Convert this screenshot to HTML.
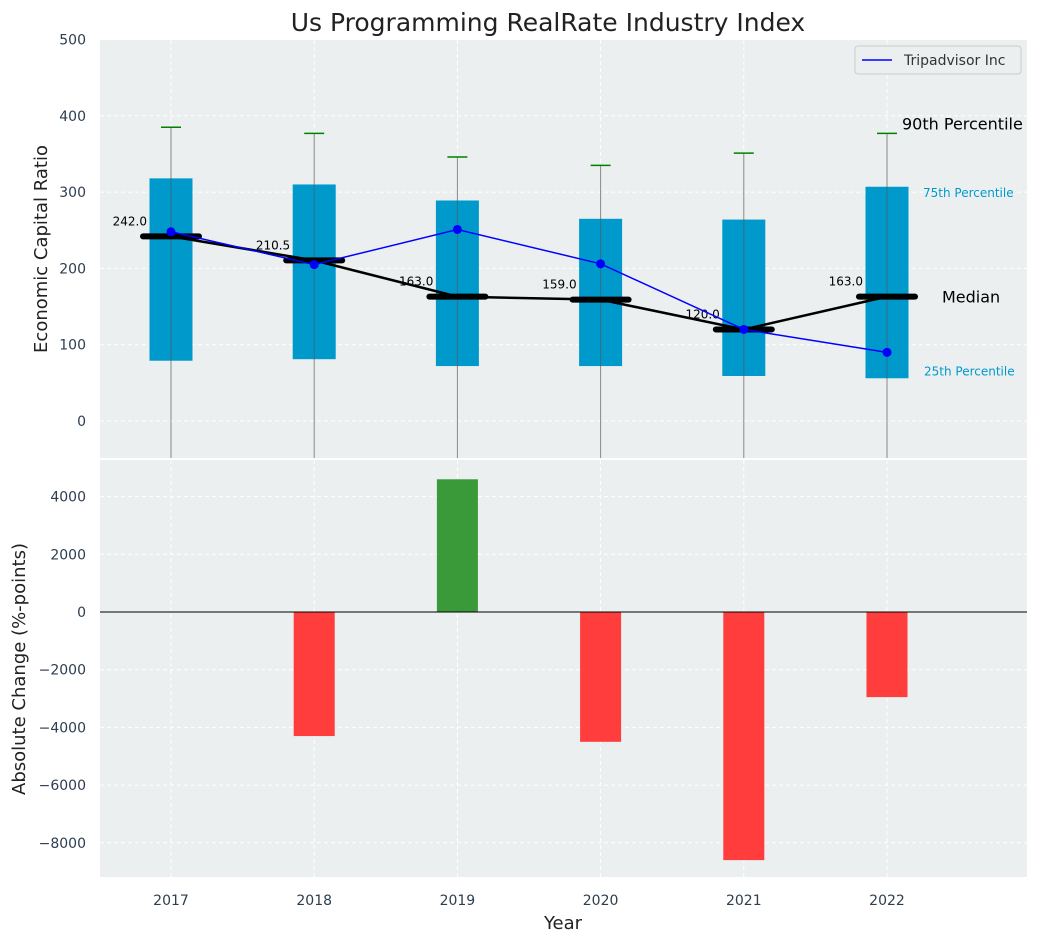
<!DOCTYPE html>
<html><head><meta charset="utf-8"><style>
body{margin:0;background:#fff;font-family:"DejaVu Sans","Liberation Sans",sans-serif}
svg text{font-family:"DejaVu Sans","Liberation Sans",sans-serif}
</style></head><body>
<svg id="c" width="1039" height="942" xmlns="http://www.w3.org/2000/svg"></svg>
<script>
const years=[2017,2018,2019,2020,2021,2022];
const q1=[79,81,72,72,59,56];
const q3=[318,310,289,265,264,307];
const p90=[385,377,346,335,351,377];
const p10=[-100,-100,-100,-100,-100,-100];
const medians=[242,210.5,163,159,120,163];
const tripadvisor=[248,205,251,206,120,90];
const changes=[0,-4300,4600,-4500,-8600,-2950];
const yTicksTop=[0,100,200,300,400,500];
const yTicksBot=[-8000,-6000,-4000,-2000,0,2000,4000];

const NS="http://www.w3.org/2000/svg";
const svg=document.getElementById('c');
function el(t,a,txt){const e=document.createElementNS(NS,t);for(const k in a)e.setAttribute(k,a[k]);if(txt!==undefined)e.textContent=txt;svg.appendChild(e);return e;}
const L=100,R=1027,T1=40,B1=458,T2=460,B2=877;
const x=v=>171+(v-2017)*143.2;
const y1=v=>421-v*0.763;
const y2=v=>612-v*0.02885;
const tick='#2c3e50';

let e=el('rect',{x:L,y:T1,width:R-L,height:B1-T1,fill:'#ebefef'});

e=el('rect',{x:L,y:T2,width:R-L,height:B2-T2,fill:'#ebefef'});


years.forEach(v=>{
 el('line',{x1:x(v),x2:x(v),y1:T1,y2:B1,stroke:'#fff','stroke-dasharray':'4,3'});
 el('line',{x1:x(v),x2:x(v),y1:T2,y2:B2,stroke:'#fff','stroke-dasharray':'4,3'});
 e=el('text',{x:x(v),y:905,'font-size':14,fill:tick,'text-anchor':'middle'},v);
 
});
yTicksTop.forEach(v=>{
 el('line',{x1:L,x2:R,y1:y1(v),y2:y1(v),stroke:'#fff','stroke-dasharray':'4,3'});
 e=el('text',{x:86,y:y1(v)+5,'font-size':14,fill:tick,'text-anchor':'end'},v);
 
});
yTicksBot.forEach(v=>{
 el('line',{x1:L,x2:R,y1:y2(v),y2:y2(v),stroke:'#fff','stroke-dasharray':'4,3'});
 e=el('text',{x:86,y:y2(v)+5,'font-size':14,fill:tick,'text-anchor':'end'},String(v).replace('-','−'));
 
});

years.forEach((v,i)=>{
 const cx=x(v);
 e=el('line',{x1:cx,x2:cx,y1:y1(p90[i]),y2:Math.min(B1,y1(p10[i])),stroke:'#888','stroke-width':1});
 
 e=el('rect',{x:cx-21.5,y:y1(q3[i]),width:43,height:y1(q1[i])-y1(q3[i]),fill:'#0099cc'});
 
 el('line',{x1:cx,x2:cx,y1:y1(q3[i]),y2:y1(q1[i]),stroke:'#555','stroke-width':1,opacity:0.6});
 e=el('line',{x1:cx-10,x2:cx+10,y1:y1(p90[i]),y2:y1(p90[i]),stroke:'green','stroke-width':1.5});
 
});
e=el('polyline',{points:years.map((v,i)=>x(v)+','+y1(medians[i])).join(' '),fill:'none',stroke:'#000','stroke-width':2.5});

years.forEach((v,i)=>{
 e=el('line',{x1:x(v)-28,x2:x(v)+28,y1:y1(medians[i]),y2:y1(medians[i]),stroke:'#000','stroke-width':6,'stroke-linecap':'round'});
 
 e=el('text',{x:x(v)-24,y:y1(medians[i])-11,'font-size':12,fill:'#000','text-anchor':'end'},medians[i].toFixed(1));
 
});
e=el('polyline',{points:years.map((v,i)=>x(v)+','+y1(tripadvisor[i])).join(' '),fill:'none',stroke:'blue','stroke-width':1.5});

years.forEach((v,i)=>{
 e=el('circle',{cx:x(v),cy:y1(tripadvisor[i]),r:4.5,fill:'blue'});
 
});
const lx=x(2022);
e=el('text',{x:lx+15,y:y1(p90[5])-4,'font-size':16,fill:'#000'},'90th Percentile');

e=el('text',{x:lx+36,y:y1(q3[5])+10,'font-size':12,fill:'#0099cc'},'75th Percentile');

e=el('text',{x:lx+55,y:y1(medians[5])+6,'font-size':16,fill:'#000'},'Median');

e=el('text',{x:lx+37,y:y1(q1[5])-3,'font-size':12,fill:'#0099cc'},'25th Percentile');

e=el('rect',{x:855,y:46,width:166,height:28,fill:'#ebefef',stroke:'#ccc',rx:3});

el('line',{x1:862,x2:892,y1:60,y2:60,stroke:'blue','stroke-width':1.5});
e=el('text',{x:904,y:65,'font-size':14,fill:'#333'},'Tripadvisor Inc');


years.forEach((v,i)=>{
 const c=changes[i];if(c===0)return;
 e=el('rect',{x:x(v)-20.5,y:Math.min(y2(0),y2(c)),width:41,height:Math.abs(y2(c)-y2(0)),fill:c>0?'#3a9a3a':'#ff3d3d'});
 
});
el('line',{x1:L,x2:R,y1:y2(0),y2:y2(0),stroke:'#000','stroke-width':1});

e=el('text',{x:548,y:31,'font-size':25,fill:'#222','text-anchor':'middle'},'Us Programming RealRate Industry Index');

e=el('text',{x:0,y:0,'font-size':18,fill:'#222','text-anchor':'middle',transform:'translate(47,249) rotate(-90)'},'Economic Capital Ratio');

e=el('text',{x:0,y:0,'font-size':18,fill:'#222','text-anchor':'middle',transform:'translate(25,669) rotate(-90)'},'Absolute Change (%-points)');

e=el('text',{x:563,y:929,'font-size':18,fill:'#222','text-anchor':'middle'},'Year');

</script>
</body></html>
